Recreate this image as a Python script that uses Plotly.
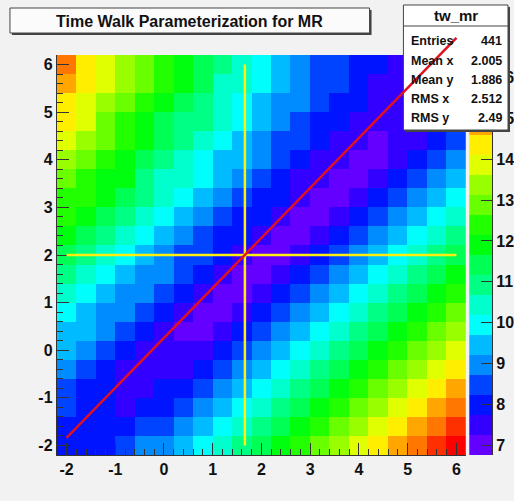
import colorsys
import plotly.graph_objects as go

W, H = 514, 501

# bin centres (21 x 21 bins of width 0.4)
x_centers = [-2.0, -1.6, -1.2, -0.8, -0.4, 0.0, 0.4, 0.8, 1.2, 1.6, 2.0,
             2.4, 2.8, 3.2, 3.6, 4.0, 4.4, 4.8, 5.2, 5.6, 6.0]
y_centers = [-2.0, -1.6, -1.2, -0.8, -0.4, 0.0, 0.4, 0.8, 1.2, 1.6, 2.0,
             2.4, 2.8, 3.2, 3.6, 4.0, 4.4, 4.8, 5.2, 5.6, 6.0]

# bin contents, one list per y bin (bottom row first)
row_y_m2p0 = [8.20, 8.09, 8.14, 8.38, 8.73, 9.13, 9.57, 10.02, 10.48, 10.94, 11.41, 11.88, 12.35, 12.83, 13.30, 13.78, 14.25, 14.73, 15.20, 15.68, 16.55]
row_y_m1p6 = [8.17, 7.97, 7.88, 7.97, 8.27, 8.66, 9.09, 9.54, 10.00, 10.46, 10.93, 11.40, 11.88, 12.35, 12.83, 13.30, 13.78, 14.25, 14.73, 15.20, 15.68]
row_y_m1p2 = [8.30, 7.97, 7.77, 7.69, 7.84, 8.19, 8.61, 9.06, 9.52, 9.99, 10.46, 10.93, 11.40, 11.88, 12.35, 12.83, 13.30, 13.78, 14.25, 14.73, 15.20]
row_y_m0p8 = [8.56, 8.16, 7.80, 7.59, 7.52, 7.74, 8.13, 8.58, 9.04, 9.51, 9.98, 10.45, 10.93, 11.40, 11.88, 12.35, 12.83, 13.30, 13.78, 14.25, 14.73]
row_y_m0p4 = [8.89, 8.46, 8.05, 7.67, 7.43, 7.38, 7.67, 8.10, 8.56, 9.03, 9.50, 9.98, 10.45, 10.93, 11.40, 11.88, 12.35, 12.83, 13.30, 13.78, 14.25]
row_y_0p0 = [9.26, 8.83, 8.39, 7.97, 7.56, 7.30, 7.27, 7.63, 8.09, 8.55, 9.03, 9.50, 9.98, 10.45, 10.93, 11.40, 11.88, 12.35, 12.83, 13.30, 13.78]
row_y_0p4 = [9.66, 9.22, 8.78, 8.35, 7.91, 7.50, 7.19, 7.19, 7.61, 8.08, 8.55, 9.03, 9.50, 9.98, 10.45, 10.93, 11.40, 11.88, 12.35, 12.83, 13.30]
row_y_0p8 = [10.07, 9.63, 9.19, 8.75, 8.32, 7.89, 7.46, 7.11, 7.15, 7.60, 8.08, 8.55, 9.03, 9.50, 9.98, 10.45, 10.93, 11.40, 11.88, 12.35, 12.83]
row_y_1p2 = [10.48, 10.05, 9.61, 9.17, 8.74, 8.30, 7.87, 7.44, 7.05, 7.13, 7.60, 8.08, 8.55, 9.03, 9.50, 9.98, 10.45, 10.93, 11.40, 11.88, 12.35]
row_y_1p6 = [10.91, 10.47, 10.03, 9.60, 9.17, 8.73, 8.30, 7.86, 7.43, 7.01, 7.13, 7.60, 8.08, 8.55, 9.03, 9.50, 9.98, 10.45, 10.93, 11.40, 11.88]
row_y_2p0 = [11.33, 10.90, 10.46, 10.03, 9.59, 9.16, 8.71, 8.27, 7.83, 7.41, 6.76, 7.13, 7.60, 8.08, 8.55, 9.03, 9.50, 9.98, 10.45, 10.93, 11.40]
row_y_2p4 = [11.76, 11.32, 10.89, 10.46, 10.03, 9.57, 9.12, 8.66, 8.22, 7.80, 7.39, 7.01, 7.13, 7.60, 8.08, 8.55, 9.03, 9.50, 9.98, 10.45, 10.93]
row_y_2p8 = [12.19, 11.75, 11.32, 10.89, 10.42, 9.97, 9.50, 9.04, 8.60, 8.18, 7.77, 7.38, 7.02, 7.13, 7.60, 8.08, 8.55, 9.03, 9.50, 9.98, 10.46]
row_y_3p2 = [12.62, 12.18, 11.75, 11.28, 10.82, 10.33, 9.86, 9.40, 8.96, 8.54, 8.13, 7.74, 7.36, 7.05, 7.15, 7.61, 8.08, 8.56, 9.03, 9.51, 9.99]
row_y_3p6 = [13.05, 12.62, 12.14, 11.66, 11.16, 10.67, 10.20, 9.74, 9.30, 8.88, 8.47, 8.08, 7.70, 7.34, 7.10, 7.17, 7.62, 8.09, 8.57, 9.04, 9.52]
row_y_4p0 = [13.48, 12.99, 12.51, 11.99, 11.49, 11.00, 10.53, 10.07, 9.63, 9.21, 8.80, 8.39, 8.00, 7.65, 7.33, 7.15, 7.22, 7.64, 8.10, 8.58, 9.05]
row_y_4p4 = [13.85, 13.36, 12.82, 12.30, 11.80, 11.31, 10.84, 10.38, 9.94, 9.52, 9.09, 8.66, 8.28, 7.92, 7.60, 7.33, 7.22, 7.28, 7.67, 8.13, 8.60]
row_y_4p8 = [14.21, 13.66, 13.12, 12.60, 12.10, 11.61, 11.14, 10.68, 10.24, 9.78, 9.33, 8.92, 8.53, 8.18, 7.85, 7.56, 7.35, 7.29, 7.36, 7.71, 8.16]
row_y_5p2 = [14.49, 13.94, 13.40, 12.88, 12.38, 11.89, 11.42, 10.96, 10.48, 9.99, 9.56, 9.13, 8.76, 8.39, 8.05, 7.76, 7.53, 7.39, 7.38, 7.45, 7.77]
row_y_5p6 = [14.75, 14.20, 13.66, 13.14, 12.64, 12.15, 11.68, 11.18, 10.65, 10.20, 9.74, 9.34, 8.94, 8.55, 8.23, 7.93, 7.69, 7.54, 7.47, 7.49, 7.56]
row_y_6p0 = [15.20, 14.45, 13.91, 13.39, 12.89, 12.40, 11.87, 11.32, 10.84, 10.34, 9.92, 9.48, 9.05, 8.68, 8.35, 8.06, 7.86, 7.70, 7.60, 7.57, 7.60]

contents = [row_y_m2p0, row_y_m1p6, row_y_m1p2, row_y_m0p8, row_y_m0p4,
            row_y_0p0, row_y_0p4, row_y_0p8, row_y_1p2, row_y_1p6, row_y_2p0,
            row_y_2p4, row_y_2p8, row_y_3p2, row_y_3p6, row_y_4p0, row_y_4p4,
            row_y_4p8, row_y_5p2, row_y_5p6, row_y_6p0]

# overlays: cross at the peak and the straight-line fit
cross_x = 1.66
cross_y = 2.0
cross_span = [-2.0, 6.0]
fit_x = [-2.0, 6.0]
fit_y = [-1.84, 6.56]

# statistics panel
hist_name = "tw_mr"
stat_labels = ["Entries", "Mean x", "Mean y", "RMS x", "RMS y"]
stat_values = ["441", "2.005", "1.886", "2.512", "2.49"]

palette_ticks = [7, 8, 9, 10, 11, 12, 13, 14, 15, 16]
palette_labels = ["7", "8", "9", "10", "11", "12", "13", "14", "15", "16"]
axis_ticks = [-2, -1, 0, 1, 2, 3, 4, 5, 6]
axis_labels = ["-2", "-1", "0", "1", "2", "3", "4", "5", "6"]

# ---- colour palette: 50-colour violet->red spectrum, 20 contour levels ----
N_COLORS, N_CONT = 50, 20
spectrum = []
for i in range(N_COLORS):
    hue = 280.0 - (i + 1) * (280.0 / N_COLORS)
    r, g, b = colorsys.hls_to_rgb(hue / 360.0, 0.5, 1.0)
    spectrum.append("rgb(%d,%d,%d)" % (round(r * 255), round(g * 255), round(b * 255)))
band_colors = [spectrum[int((k + 0.99) * N_COLORS / N_CONT)] for k in range(N_CONT)]
colorscale = []
for k, c in enumerate(band_colors):
    colorscale.append([k / N_CONT, c])
    colorscale.append([(k + 1) / N_CONT, c])

z_min = min(min(r) for r in contents)
z_max = max(max(r) for r in contents)
dz = (z_max - z_min) / N_CONT
level_edges = [z_min + k * dz for k in range(N_CONT + 1)]
level_mids = [[z_min + (k + 0.5) * dz] for k in range(N_CONT)]

# ---- pixel layout helpers ----
def px(xp):
    return xp / W


def py(yp):
    return 1 - yp / H


FONT = "Liberation Sans, Arial, Helvetica, sans-serif"
INK = "#111111"
BG = "#f2f2f2"

x_dom = [px(57), px(468)]
y_dom = [py(455), py(55)]
y_rng = [-2.2, 6.2]

fig = go.Figure()
fig.add_trace(go.Heatmap(
    x=x_centers, y=y_centers, z=contents,
    zmin=z_min, zmax=z_max, colorscale=colorscale,
    showscale=False, zsmooth=False, hoverinfo="skip",
    xaxis="x", yaxis="y",
))
# palette bar drawn as its own one-column heatmap
fig.add_trace(go.Heatmap(
    x=[0, 1], y=level_edges, z=level_mids,
    zmin=z_min, zmax=z_max, colorscale=colorscale,
    showscale=False, zsmooth=False, hoverinfo="skip",
    xaxis="x2", yaxis="y2",
))

tickfont = dict(family=FONT, size=16, color=INK, weight="bold")
axis_common = dict(
    ticks="inside", ticklen=12, tickwidth=1, tickcolor="#333",
    showgrid=False, zeroline=False, showline=True, linecolor="#333",
    linewidth=1, tickfont=tickfont, fixedrange=True,
    minor=dict(dtick=0.2, tick0=0, ticks="inside", ticklen=6,
               tickcolor="#333", showgrid=False),
)

fig.update_layout(
    width=W, height=H,
    margin=dict(l=0, r=0, t=0, b=0),
    paper_bgcolor=BG, plot_bgcolor=BG,
    showlegend=False,
    xaxis=dict(domain=x_dom, range=[-2.2, 6.2], tickvals=axis_ticks,
               ticktext=axis_labels, anchor="y", **axis_common),
    yaxis=dict(domain=y_dom, range=y_rng, tickvals=axis_ticks,
               ticktext=axis_labels, anchor="x", **axis_common),
    xaxis2=dict(domain=[px(471), px(494)], range=[0, 1], visible=False,
                anchor="y2", fixedrange=True),
    yaxis2=dict(domain=y_dom, range=[z_min, z_max], tickvals=palette_ticks,
                ticktext=palette_labels,
                anchor="x2", side="right", ticks="inside", ticklen=11,
                tickcolor="#333", showline=True, linecolor="#333",
                showgrid=False, zeroline=False, tickfont=tickfont,
                fixedrange=True),
)

shapes = []
# yellow cross
shapes.append(dict(type="line", xref="x", yref="y", x0=cross_x, x1=cross_x,
                   y0=cross_span[0], y1=cross_span[1],
                   line=dict(color="#ffef10", width=2.5), layer="above"))
shapes.append(dict(type="line", xref="x", yref="y", x0=cross_span[0],
                   x1=cross_span[1], y0=cross_y, y1=cross_y,
                   line=dict(color="#ffef10", width=2.5), layer="above"))

# title box with drop shadow
shapes.append(dict(type="rect", xref="paper", yref="paper",
                   x0=px(12), x1=px(373), y0=py(35), y1=py(10),
                   fillcolor="#444", line=dict(width=0), layer="above"))
shapes.append(dict(type="rect", xref="paper", yref="paper",
                   x0=px(10), x1=px(371), y0=py(33), y1=py(8),
                   fillcolor="#fbfbfb", line=dict(color="#444", width=1),
                   layer="above"))

# statistics box with drop shadow
shapes.append(dict(type="rect", xref="paper", yref="paper",
                   x0=px(407), x1=px(512), y0=py(132), y1=py(7),
                   fillcolor="#444", line=dict(width=0), layer="above"))
shapes.append(dict(type="rect", xref="paper", yref="paper",
                   x0=px(405), x1=px(510), y0=py(130), y1=py(5),
                   fillcolor="#ffffff", line=dict(color="#444", width=1),
                   layer="above"))
shapes.append(dict(type="line", xref="paper", yref="paper",
                   x0=px(405), x1=px(510), y0=py(26), y1=py(26),
                   line=dict(color="#444", width=1), layer="above"))

# straight-line fit, allowed to run past the frame top
def y_frac(v):
    return (v - y_rng[0]) / (y_rng[1] - y_rng[0])


shapes.append(dict(type="line", xref="x", yref="y domain",
                   x0=fit_x[0], x1=fit_x[1],
                   y0=y_frac(fit_y[0]), y1=y_frac(fit_y[1]),
                   line=dict(color="#e3101e", width=2.5), layer="above"))
fig.update_layout(shapes=shapes)

ann = []
ann.append(dict(text="Time Walk Parameterization for MR", xref="paper",
                yref="paper", x=px(190.5), y=py(21.5), showarrow=False,
                xanchor="center", yanchor="middle",
                font=dict(family=FONT, size=16, color=INK, weight="bold")))
ann.append(dict(text=hist_name, xref="paper", yref="paper", x=px(458),
                y=py(15.5), showarrow=False, xanchor="center",
                yanchor="middle",
                font=dict(family=FONT, size=15, color=INK, weight="bold")))
row_y = [41, 61, 80, 99, 118]
for lab, val, yy in zip(stat_labels, stat_values, row_y):
    ann.append(dict(text=lab, xref="paper", yref="paper", x=px(411),
                    y=py(yy), showarrow=False, xanchor="left",
                    yanchor="middle",
                    font=dict(family=FONT, size=12.5, color=INK,
                              weight="bold")))
    ann.append(dict(text=val, xref="paper", yref="paper", x=px(506),
                    y=py(yy), showarrow=False, xanchor="right",
                    yanchor="middle",
                    font=dict(family=FONT, size=12.5, color=INK,
                              weight="bold")))
fig.update_layout(annotations=ann)

fig.write_html("out.html")
